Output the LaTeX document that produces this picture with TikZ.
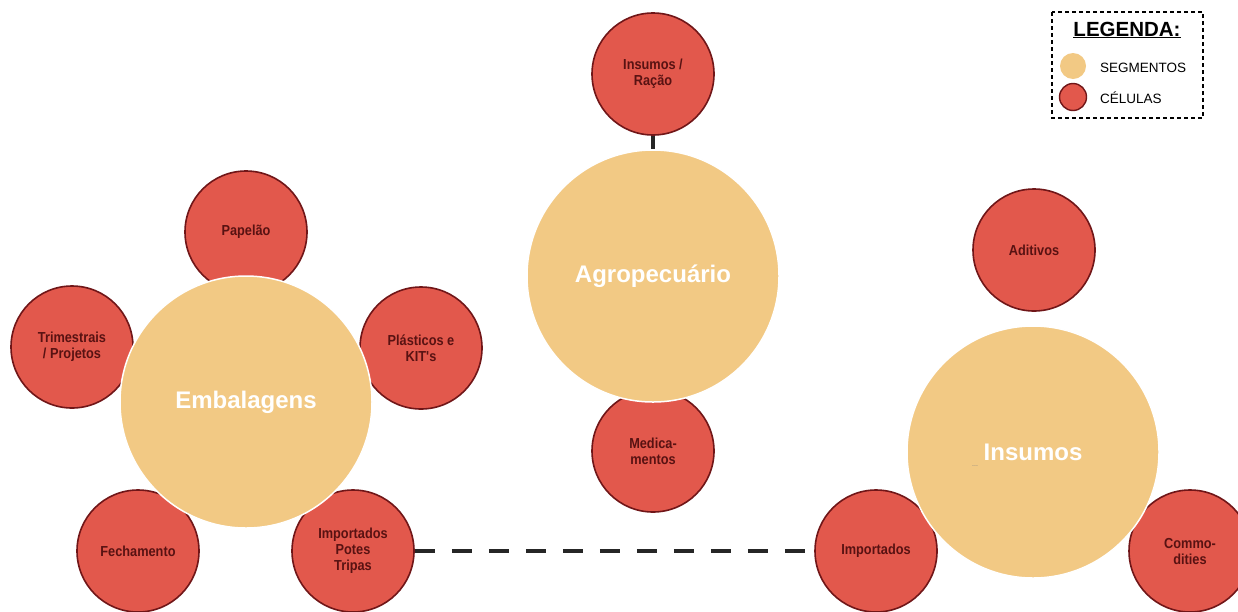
\documentclass[tikz,border=0pt]{standalone}
\usepackage{fontspec}
\setmainfont{Liberation Sans}
\newfontfamily\cellfont[FakeStretch=0.88]{Liberation Sans}
\usetikzlibrary{calc}
\definecolor{segfill}{RGB}{242,201,132}
\definecolor{cellfill}{RGB}{226,88,76}
\definecolor{celledge}{RGB}{112,22,24}
\definecolor{celltext}{RGB}{88,18,18}
\tikzset{
  cell/.style={circle, fill=cellfill, draw=celledge, line width=1.6pt,
    minimum size=122pt, inner sep=0pt, align=center, text=celltext,
    font=\cellfont\bfseries\fontsize{14.5}{16}\selectfont},
  segment/.style={circle, fill=segfill, draw=white, line width=1.5pt,
    minimum size=252pt, inner sep=0pt, text=white,
    font=\bfseries\fontsize{24}{27}\selectfont},
  link/.style={line width=4pt, black!85},
  legendtext/.style={anchor=west, inner sep=0pt, font=\fontsize{13.5}{15}\selectfont}
}
\begin{document}
\begin{tikzpicture}[x=1pt,y=-1pt]
\useasboundingbox (0,0) rectangle (1238,611);

% cells of each segment
\node[cell] (pap) at (246,232) {Papelão};
\node[cell] (tri) at (72,347) {Trimestrais\\/ Projetos};
\node[cell] (pla) at (421,348) {Plásticos e\\KIT's};
\node[cell] (fec) at (138,551) {Fechamento};
\node[cell] (ipt) at (353,551) {Importados\\Potes\\Tripas};
\node[cell] (rac) at (653,74) {Insumos /\\Ração};
\node[cell] (med) at (653,451) {Medica-\\mentos};
\node[cell] (adi) at (1034,250) {Aditivos};
\node[cell] (imp) at (876,551) {Importados};
\node[cell] (com) at (1190,551) {Commo-\\dities};

% segments on top of their cells
\node[segment] (emb) at (246,402) {Embalagens};
\node[segment] (agro) at (653,276) {Agropecuário};
\node[segment] (ins) at (1033,452) {Insumos};
\node[anchor=east, inner sep=0pt, text=gray, font=\fontsize{7}{8}\selectfont] (dots) at (ins.west) [xshift=72pt, yshift=-14pt] {...};

% connectors
\draw[link] (rac.south) -- (agro.north);
\draw[link, dash pattern=on 20pt off 17pt] (ipt.east) -- (imp.west);

% legend
\draw[line width=1.1pt, dash pattern=on 4pt off 3pt] (1052,12) rectangle (1203,118);
\node[font=\bfseries\fontsize{20.5}{22}\selectfont, inner sep=0pt] (legtitle) at (1127,30) {\underline{LEGENDA:}};
\node[circle, fill=segfill, minimum size=26pt, inner sep=0pt] (legseg) at (1073,66) {};
\node[circle, fill=cellfill, draw=celledge, line width=1.4pt, minimum size=27pt, inner sep=0pt] (legcel) at (1073,97) {};
\node[legendtext] (legsegtext) at (1100,68) {SEGMENTOS};
\node[legendtext] (legceltext) at (1100,98) {CÉLULAS};
\end{tikzpicture}
\end{document}
